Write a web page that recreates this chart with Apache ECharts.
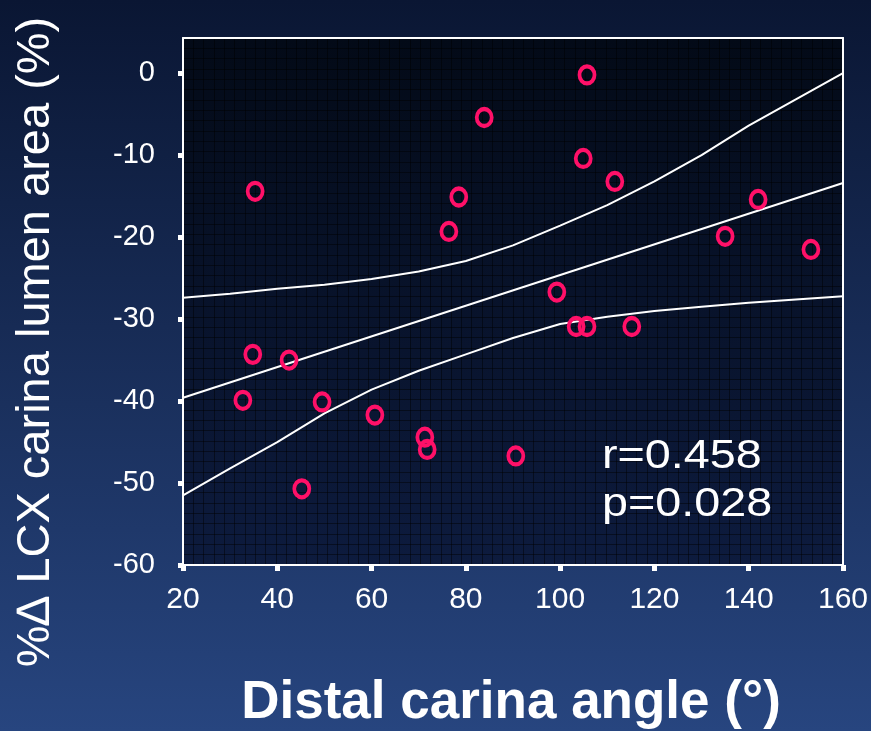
<!DOCTYPE html>
<html><head><meta charset="utf-8">
<script src="https://cdn.jsdelivr.net/npm/echarts@6/dist/echarts.min.js"></script>
<style>html,body{margin:0;padding:0;background:#0a1634;}#c{width:871px;height:731px;}</style>
</head><body><div id="c"></div>
<script>
// ---- data ----
const xTicks = [20, 40, 60, 80, 100, 120, 140, 160];
const yTicks = [-60, -50, -40, -30, -20, -10, 0];
const angle = [35.3, 83.9, 105.7, 104.9, 111.6, 78.5, 76.4, 142.0, 135.0, 153.2, 99.3, 103.4,
               105.7, 115.2, 34.8, 42.5, 32.7, 49.5, 60.7, 71.3, 71.8, 90.6, 45.2];
const lumen = [-14.4, -5.4, -0.2, -10.4, -13.2, -15.1, -19.3, -15.4, -19.9, -21.5, -26.7, -30.9,
               -30.9, -30.9, -34.3, -35.0, -39.9, -40.1, -41.7, -44.4, -45.9, -46.7, -50.7];
const fitX = [20, 160];
const fitY = [-39.6, -13.4];
const ciX = [20, 30, 40, 50, 60, 70, 80, 90, 100, 110, 120, 130, 140, 150, 160];
const ciUpper = [-27.4, -26.9, -26.3, -25.8, -25.1, -24.2, -22.9, -21.0, -18.6, -16.1, -13.2, -10.0, -6.4, -3.2, 0.0];
const ciLower = [-51.5, -48.2, -45.0, -41.5, -38.6, -36.3, -34.3, -32.3, -30.6, -29.7, -29.0, -28.5, -28.0, -27.6, -27.2];
const statR = 'r=0.458';
const statP = 'p=0.028';
const xName = 'Distal carina angle (°)';
const yName = '%\u2206 LCX carina lumen area (%)';

const FONT = '"Liberation Sans", Arial, Helvetica, sans-serif';
const pair = (xs, ys) => xs.map((x, i) => [x, ys[i]]);
const whiteLine = { color: '#ffffff', width: 2 };
const texture = { color: 'rgba(0,0,0,0.45)', width: 1 };

const chart = echarts.init(document.getElementById('c'), null, { renderer: 'canvas' });
chart.setOption({
  animation: false,
  backgroundColor: new echarts.graphic.LinearGradient(0, 0, 0, 1, [
    { offset: 0, color: '#0a1633' },
    { offset: 1, color: '#27457f' }
  ]),
  grid: {
    left: 183, top: 38, right: 28, bottom: 166,
    show: true,
    borderWidth: 0,
    backgroundColor: new echarts.graphic.LinearGradient(0, 0, 0, 1, [
      { offset: 0, color: '#030a17' },
      { offset: 1, color: '#0d1b3e' }
    ])
  },
  xAxis: [{
    type: 'value', min: xTicks[0], max: xTicks[xTicks.length - 1], interval: 20,
    axisLine: { show: true, onZero: false, lineStyle: whiteLine },
    axisTick: { show: true, length: 6, lineStyle: { color: '#ffffff', width: 5 } },
    axisLabel: { color: '#ffffff', fontSize: 30, fontFamily: FONT, margin: 20 },
    splitLine: { show: false }
  }, {
    type: 'value', position: 'top', min: 0, max: 64, interval: 1,
    axisLine: { show: true, onZero: false, lineStyle: whiteLine },
    axisTick: { show: false }, axisLabel: { show: false },
    splitLine: { show: true, showMinLine: false, showMaxLine: false, lineStyle: texture }
  }],
  yAxis: [{
    type: 'value', min: -60, max: 4.3, interval: 10,
    axisLine: { show: true, onZero: false, lineStyle: whiteLine },
    axisTick: { show: true, length: 5, customValues: yTicks, lineStyle: { color: '#ffffff', width: 5 } },
    axisLabel: { color: '#ffffff', fontSize: 29, fontFamily: FONT, margin: 28, customValues: yTicks },
    splitLine: { show: false }
  }, {
    type: 'value', position: 'right', min: 0, max: 51, interval: 1,
    axisLine: { show: true, onZero: false, lineStyle: whiteLine },
    axisTick: { show: false }, axisLabel: { show: false },
    splitLine: { show: true, showMinLine: false, showMaxLine: false, lineStyle: texture }
  }],
  series: [{
    type: 'line', data: pair(fitX, fitY), showSymbol: false, symbol: 'none',
    lineStyle: { color: '#ffffff', width: 2 }, z: 3
  }, {
    type: 'line', data: pair(ciX, ciUpper), showSymbol: false, symbol: 'none',
    lineStyle: { color: '#ffffff', width: 2 }, z: 3
  }, {
    type: 'line', data: pair(ciX, ciLower), showSymbol: false, symbol: 'none',
    lineStyle: { color: '#ffffff', width: 2 }, z: 3
  }, {
    type: 'scatter', data: pair(angle, lumen), symbol: 'circle', symbolSize: [15, 17],
    itemStyle: { color: 'rgba(0,0,0,0)', borderColor: '#ff1068', borderWidth: 4, opacity: 1 },
    z: 5
  }],
  graphic: [{
    type: 'text', x: 36, y: 342, rotation: Math.PI / 2, z: 10,
    style: { text: yName, font: '47px ' + FONT, fill: '#ffffff', align: 'center', verticalAlign: 'middle', textAlign: 'center', textVerticalAlign: 'middle' }
  }, {
    type: 'text', x: 511, y: 703, z: 10,
    style: { text: xName, font: 'bold 53px ' + FONT, fill: '#ffffff', align: 'center', verticalAlign: 'middle', textAlign: 'center', textVerticalAlign: 'middle' }
  }, {
    type: 'text', x: 602, y: 457, scaleX: 1.14, z: 10,
    style: { text: statR, font: '41px ' + FONT, fill: '#ffffff', align: 'left', verticalAlign: 'middle', textAlign: 'left', textVerticalAlign: 'middle' }
  }, {
    type: 'text', x: 602, y: 505, scaleX: 1.14, z: 10,
    style: { text: statP, font: '41px ' + FONT, fill: '#ffffff', align: 'left', verticalAlign: 'middle', textAlign: 'left', textVerticalAlign: 'middle' }
  }]
});
</script>
</body></html>
